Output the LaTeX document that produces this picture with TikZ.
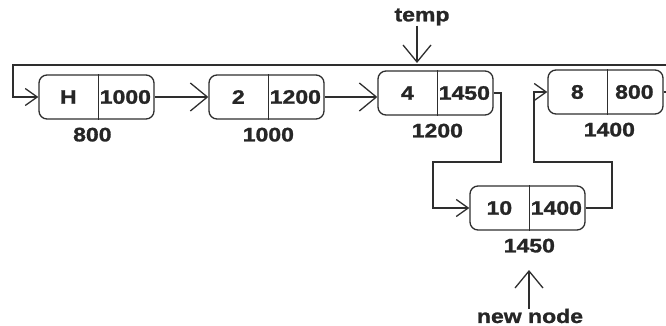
\documentclass[tikz,border=0pt]{standalone}
\usepackage{fontspec}
\setmainfont{Liberation Sans}[BoldFeatures={FakeBold=1.2}]
\usetikzlibrary{arrows.meta}
\newcommand{\wtxt}[1]{\scalebox{1.18}[1]{#1}}
\newcommand{\llnode}[7]{%
  \node[cell] (#1) at ({#2+57.5},#3) {};
  \draw[edge] ([xshift=60pt]#1.north west) -- ([xshift=60pt]#1.south west);
  \node[txt] (#1-d) at ([xshift=30pt]#1.west) {\wtxt{#4}};
  \node[txt] (#1-p) at ([xshift=87pt]#1.west) {\wtxt{#5}};
  \node[txt] (#1-a) at ([xshift={(60+#7)*1pt},yshift=-15pt]#1.south west) {\wtxt{#6}};
}
\tikzset{
  edge/.style={draw=black!82, line width=1.3pt},
  cell/.style={draw=black!82, line width=1.3pt, rounded corners=8pt, minimum width=115pt, minimum height=44pt, inner sep=0pt},
  txt/.style={inner sep=0pt, text=black!85, font=\bfseries\fontsize{19.5}{22}\selectfont},
  bigarr/.style={-{Straight Barb[length=17pt,width=28pt]}},
  smallarr/.style={-{Straight Barb[length=12pt,width=17pt]}},
}
\begin{document}
\begin{tikzpicture}[x=1pt,y=-1pt]
\useasboundingbox (0,0) rectangle (666,326);
\llnode{h}{39}{97}{H}{1000}{800}{-6}
\llnode{n2}{209}{97}{2}{1200}{1000}{0}
\llnode{n4}{378}{93}{4}{1450}{1200}{0}
\llnode{n8}{548}{92}{8}{800}{1400}{2}
\llnode{n10}{470}{208}{10}{1400}{1450}{0}
\coordinate (rt) at (666,65);
\draw[edge] (n8.east) -- (n8.east -| rt);
\draw[edge,smallarr] (rt) -- (13,65) |- (h.west);
\draw[edge,bigarr] (h.east) -- (n2.west);
\draw[edge,bigarr] (n2.east) -- (n2.east -| n4.west);
\draw[edge,smallarr] (n4.east) -| (501,162) -- (433,162) |- (n10.west);
\draw[edge,smallarr] (n10.east) -| (612,162) -- (534,162) |- (n8.west);
\node[txt] (temp) at (422,17) {\wtxt{temp}};
\coordinate (tt) at (417,63);
\draw[edge,bigarr] (temp.south -| tt) -- (tt);
\node[txt] (nn) at (530,316) {\wtxt{new node}};
\coordinate (nt) at (529,270);
\draw[edge,bigarr] (nn.north -| nt) -- (nt);
\end{tikzpicture}
\end{document}
